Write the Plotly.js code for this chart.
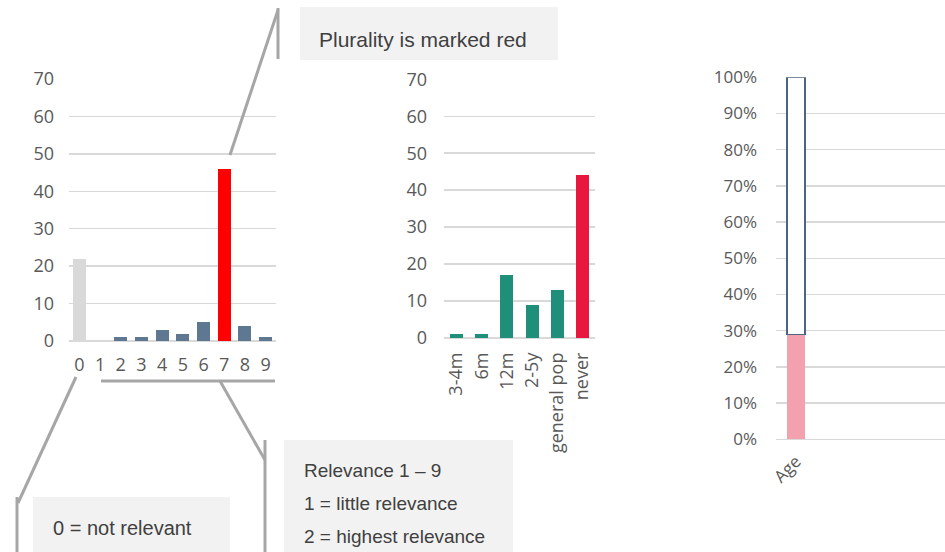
<!DOCTYPE html>
<html>
<head>
<meta charset="utf-8">
<script src="https://cdn.plot.ly/plotly-3.0.1.min.js"></script>
<style>
html,body{margin:0;padding:0;background:#fff;}
#chart{width:945px;height:552px;}
</style>
</head>
<body>
<div id="chart"></div>
<script>
// ---- data ----
var relevanceCats = ['0','1','2','3','4','5','6','7','8','9'];
var relevanceVals = [22, 0, 1, 1, 3, 2, 5, 46, 4, 1];
var relevanceColors = ['#D9D9D9','#5F7891','#5F7891','#5F7891','#5F7891','#5F7891','#5F7891','#FF0000','#5F7891','#5F7891'];

var intervalCats = ['3-4m','6m','12m','2-5y','general pop','never'];
var intervalVals = [1, 1, 17, 9, 13, 44];
var intervalColors = ['#1F8F7A','#1F8F7A','#1F8F7A','#1F8F7A','#1F8F7A','#E8173E'];

var shareCats = ['Age'];
var shareFilled = [0.29];
var shareRest = [0.71];

var pctTickVals = [0,0.1,0.2,0.3,0.4,0.5,0.6,0.7,0.8,0.9,1.0];

// ---- helpers: pixel -> paper ----
var W = 945, H = 552;
function px(x){ return x / W; }
function py(y){ return 1 - y / H; }

var tickFont = {family: 'Open Sans, sans-serif', size: 18, color: '#595959'};
var gridColor = '#D9D9D9';

var traces = [
  {type:'bar', x: relevanceCats, y: relevanceVals, xaxis:'x', yaxis:'y',
   marker:{color: relevanceColors}, width:0.63, hoverinfo:'x+y'},
  {type:'bar', x: intervalCats, y: intervalVals, xaxis:'x2', yaxis:'y2',
   marker:{color: intervalColors}, width:0.52, hoverinfo:'x+y'},
  {type:'bar', x: shareCats, y: shareFilled, xaxis:'x3', yaxis:'y3',
   marker:{color:'#F4A1AF', line:{width:0}}, width:0.45},
  {type:'bar', x: shareCats, y: shareRest, xaxis:'x3', yaxis:'y3',
   marker:{color:'#FFFFFF', line:{color:'#4A6580', width:1.5}}, width:0.45}
];

var lineStyle = {color:'#A6A6A6', width:3};
var shapes = [
  // boxes
  {type:'rect', xref:'paper', yref:'paper', x0:px(300), x1:px(558), y0:py(60), y1:py(7), fillcolor:'#F2F2F2', line:{width:0}, layer:'below'},
  {type:'rect', xref:'paper', yref:'paper', x0:px(33), x1:px(230), y0:py(552), y1:py(497), fillcolor:'#F2F2F2', line:{width:0}, layer:'below'},
  {type:'rect', xref:'paper', yref:'paper', x0:px(284), x1:px(513), y0:py(552), y1:py(440), fillcolor:'#F2F2F2', line:{width:0}, layer:'below'},
  // connector lines
  {type:'line', xref:'paper', yref:'paper', x0:px(230), y0:py(155), x1:px(278), y1:py(10), line:lineStyle},
  {type:'line', xref:'paper', yref:'paper', x0:px(278), y0:py(8), x1:px(278), y1:py(59), line:lineStyle},
  {type:'line', xref:'paper', yref:'paper', x0:px(101), y0:py(381), x1:px(275), y1:py(381), line:lineStyle},
  {type:'line', xref:'paper', yref:'paper', x0:px(220), y0:py(381), x1:px(265), y1:py(460), line:lineStyle},
  {type:'line', xref:'paper', yref:'paper', x0:px(265), y0:py(440), x1:px(265), y1:py(552), line:lineStyle},
  {type:'line', xref:'paper', yref:'paper', x0:px(76), y0:py(377), x1:px(18), y1:py(503), line:lineStyle},
  {type:'line', xref:'paper', yref:'paper', x0:px(17), y0:py(497), x1:px(17), y1:py(552), line:lineStyle}
];

var boxFont = {family:'Liberation Sans, Arial, sans-serif', color:'#404040'};
var annotations = [
  {xref:'paper', yref:'paper', x:px(317), y:py(40), xanchor:'left', yanchor:'middle', showarrow:false,
   text:'Plurality is marked red', font:Object.assign({size:21}, boxFont)},
  {xref:'paper', yref:'paper', x:px(51), y:py(528), xanchor:'left', yanchor:'middle', showarrow:false,
   text:'0 = not relevant', font:Object.assign({size:20}, boxFont)},
  {xref:'paper', yref:'paper', x:px(302), y:py(470), xanchor:'left', yanchor:'middle', showarrow:false,
   text:'Relevance 1 \u2013 9', font:Object.assign({size:19}, boxFont)},
  {xref:'paper', yref:'paper', x:px(302), y:py(503), xanchor:'left', yanchor:'middle', showarrow:false,
   text:'1 = little relevance', font:Object.assign({size:19}, boxFont)},
  {xref:'paper', yref:'paper', x:px(302), y:py(536), xanchor:'left', yanchor:'middle', showarrow:false,
   text:'2 = highest relevance', font:Object.assign({size:19}, boxFont)}
];

var layout = {
  width: W, height: H,
  margin:{l:0,r:0,t:0,b:0,pad:0},
  paper_bgcolor:'#FFFFFF', plot_bgcolor:'rgba(0,0,0,0)',
  showlegend:false,
  barmode:'stack',
  xaxis:{domain:[px(69), px(276)], anchor:'y', type:'category', tickfont:tickFont,
         tickmode:'array', tickvals:relevanceCats, ticktext:relevanceCats,
         showgrid:false, zeroline:false, showline:false, ticks:'', ticklabelstandoff:11, fixedrange:true},
  yaxis:{domain:[py(341), py(79)], anchor:'x', range:[0,70], dtick:10, tickfont:tickFont,
         showgrid:true, gridcolor:gridColor, gridwidth:1.5, zeroline:true, zerolinecolor:gridColor, zerolinewidth:1.5,
         showline:false, ticks:'', ticklabelstandoff:14, fixedrange:true},
  xaxis2:{domain:[px(444), px(595)], anchor:'y2', type:'category', tickfont:tickFont,
          tickmode:'array', tickvals:intervalCats, ticktext:intervalCats,
          tickangle:-90, showgrid:false, zeroline:false, showline:false, ticks:'', ticklabelstandoff:10, fixedrange:true},
  yaxis2:{domain:[py(338), py(79.3)], anchor:'x2', range:[0,70], dtick:10, tickfont:tickFont,
          showgrid:true, gridcolor:gridColor, gridwidth:1.5, zeroline:true, zerolinecolor:gridColor, zerolinewidth:1.5,
          showline:false, ticks:'', ticklabelstandoff:16, fixedrange:true},
  xaxis3:{domain:[px(776), 1], anchor:'y3', type:'category', range:[-0.5, 3.725], tickfont:Object.assign({}, tickFont, {size:17}),
          tickangle:-45, showgrid:false, zeroline:false, showline:false, ticks:'', ticklabelstandoff:8, fixedrange:true},
  yaxis3:{domain:[py(439.3), py(77.3)], anchor:'x3', range:[0,1], tickvals:pctTickVals, tickformat:'.0%', tickfont:Object.assign({}, tickFont, {size:17}),
          showgrid:true, gridcolor:gridColor, gridwidth:1.5, zeroline:true, zerolinecolor:gridColor, zerolinewidth:1.5,
          showline:false, ticks:'', ticklabelstandoff:18, fixedrange:true},
  shapes: shapes,
  annotations: annotations
};

Plotly.newPlot('chart', traces, layout, {displayModeBar:false, staticPlot:true});
</script>
</body>
</html>
